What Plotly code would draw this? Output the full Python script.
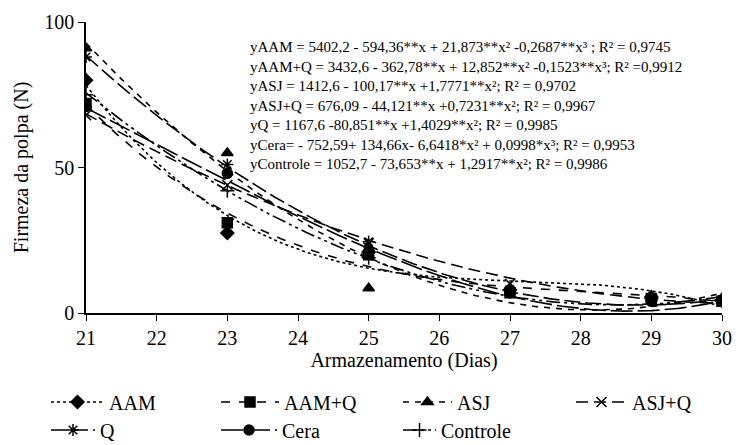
import numpy as np
import plotly.graph_objects as go

# Storage days and measured pulp firmness (N) per treatment
dias = [21, 23, 25, 27, 29, 30]
aam = [80, 27.5, 21, 8, 5.5, 4.5]
aam_q = [72, 31, 20, 7, 5, 4]
asj = [91, 55, 8.5, 8, 5, 4]
asj_q = [68, 44, 24, 10, 5, 4]
q = [88, 51, 24.5, 8, 5, 4.5]
cera = [71, 48, 21, 7, 4, 4]
controle = [75, 42, 19, 8, 5, 4]

# Fitted polynomial coefficients (c0, c1, c2, c3) from the printed equations
coef_aam = [5402.2, -594.36, 21.873, -0.2687]
coef_aam_q = [3432.6, -362.78, 12.852, -0.1523]
coef_asj = [1412.6, -100.17, 1.7771, 0.0]
coef_asj_q = [676.09, -44.121, 0.7231, 0.0]
coef_q = [1167.6, -80.851, 1.4029, 0.0]
coef_cera = [-752.59, 134.66, -6.6418, 0.0998]
coef_controle = [1052.7, -73.653, 1.2917, 0.0]

equacoes = [
    "yAAM = 5402,2 - 594,36**x + 21,873**x² -0,2687**x³ ; R² = 0,9745",
    "yAAM+Q = 3432,6 - 362,78**x + 12,852**x² -0,1523**x³; R² =0,9912",
    "yASJ = 1412,6 - 100,17**x +1,7771**x²; R² = 0,9702",
    "yASJ+Q = 676,09 - 44,121**x +0,7231**x²; R² = 0,9967",
    "yQ = 1167,6 -80,851**x +1,4029**x²; R² = 0,9985",
    "yCera= - 752,59+ 134,66x- 6,6418*x² + 0,0998*x³; R² = 0,9953",
    "yControle = 1052,7 - 73,653**x + 1,2917**x²; R² = 0,9986",
]

FONT = "Liberation Serif, Times New Roman, serif"
W, H = 739, 445

# name, values, coefficients, marker symbol, dash pattern,
# legend key position (left px, row centre px) and key width
series = [
    ("AAM", aam, coef_aam, "diamond", "dot", 46, 402, 53),
    ("AAM+Q", aam_q, coef_aam_q, "square", "dash", 216, 402, 58),
    ("ASJ", asj, coef_asj, "triangle-up", "6px,6px", 398, 402, 49),
    ("ASJ+Q", asj_q, coef_asj_q, "x-thin-open", "12px,6px", 571, 402, 51),
    ("Q", q, coef_q, "asterisk-open", "16px,5px", 46, 430, 44),
    ("Cera", cera, coef_cera, "circle", "22px,5px", 216, 430, 56),
    ("Controle", controle, coef_controle, "cross-thin-open",
     "14px,4px,3px,4px,3px,4px", 398, 430, 33),
]

xs = np.linspace(21, 30, 200)
fig = go.Figure()
legends = {}
for i, (name, vals, c, sym, dash, lx, ly, kw) in enumerate(series):
    marker = dict(symbol=sym, size=10, color="black",
                  line=dict(color="black", width=1.5))
    ys = c[0] + c[1] * xs + c[2] * xs**2 + c[3] * xs**3
    # fitted trend line
    fig.add_trace(go.Scatter(
        x=xs, y=ys, mode="lines", name=name, legendgroup=name,
        showlegend=False, line=dict(color="black", width=1.6, dash=dash),
        hoverinfo="skip",
    ))
    # observed means
    fig.add_trace(go.Scatter(
        x=dias, y=vals, mode="markers", name=name, legendgroup=name,
        showlegend=False, marker=marker,
    ))
    # legend key: line style plus marker, each in its own legend box
    leg_id = "legend" if i == 0 else f"legend{i + 1}"
    fig.add_trace(go.Scatter(
        x=[None], y=[None], mode="lines+markers", name=name, legendgroup=name,
        legend=leg_id, line=dict(color="black", width=1.6, dash=dash),
        marker=marker,
    ))
    legends[leg_id] = dict(
        orientation="h", xref="container", yref="container",
        x=lx / W, y=1 - ly / H, xanchor="left", yanchor="middle",
        itemwidth=max(kw, 30), bgcolor="rgba(0,0,0,0)", borderwidth=0,
        font=dict(family=FONT, size=20, color="black"),
    )

fig.add_annotation(
    xref="paper", yref="paper", x=0.254, y=0.947, xanchor="left", yanchor="top",
    text="<br>".join(equacoes), align="left", showarrow=False,
    font=dict(family=FONT, size=15, color="black"),
)

axis_common = dict(showgrid=False, zeroline=False, showline=True,
                   linecolor="black", linewidth=1.5, ticks="outside",
                   ticklen=6, tickcolor="black", tickwidth=1.2,
                   tickfont=dict(family=FONT, size=20))

fig.update_layout(
    width=W, height=H,
    margin=dict(l=86, r=17, t=22, b=132, autoexpand=False),
    plot_bgcolor="white", paper_bgcolor="white",
    font=dict(family=FONT, size=20, color="black"),
    showlegend=True,
    xaxis=dict(range=[21, 30], tickvals=list(range(21, 31)),
               title=dict(text="Armazenamento (Dias)", standoff=5,
                          font=dict(family=FONT, size=20)),
               **axis_common),
    yaxis=dict(range=[0, 100], tickvals=[0, 50, 100],
               title=dict(text="Firmeza da polpa (N)", standoff=10,
                          font=dict(family=FONT, size=20)),
               **axis_common),
    **legends,
)

fig.write_html("out.html")
